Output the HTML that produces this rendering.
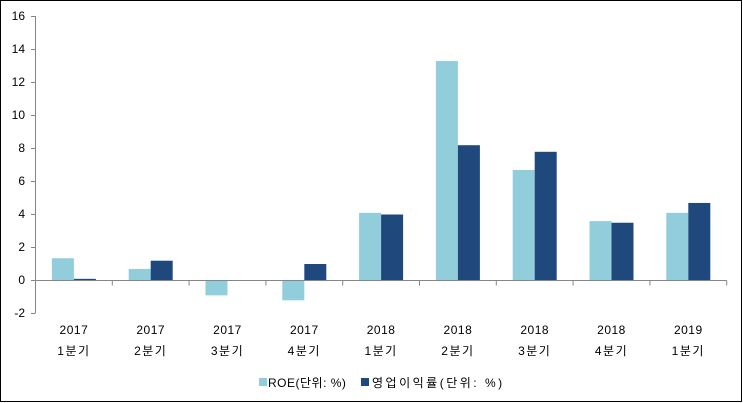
<!DOCTYPE html>
<html><head><meta charset="utf-8"><style>
html,body{margin:0;padding:0;background:#fff}
svg{display:block}
text{font-family:"Liberation Sans","Noto Sans CJK KR",sans-serif;font-size:12px;fill:#000}
</style></head><body>
<svg width="743" height="403" xmlns="http://www.w3.org/2000/svg">
<rect x="0.5" y="0.5" width="741" height="401" fill="#fff" stroke="#000" stroke-width="1"/>
<g stroke="#868686" stroke-width="1" fill="none">
<line x1="35.5" y1="16" x2="35.5" y2="313"/>
<line x1="31" y1="16.5" x2="35.5" y2="16.5"/>
<line x1="31" y1="49.5" x2="35.5" y2="49.5"/>
<line x1="31" y1="82.5" x2="35.5" y2="82.5"/>
<line x1="31" y1="115.5" x2="35.5" y2="115.5"/>
<line x1="31" y1="148.5" x2="35.5" y2="148.5"/>
<line x1="31" y1="181.5" x2="35.5" y2="181.5"/>
<line x1="31" y1="214.5" x2="35.5" y2="214.5"/>
<line x1="31" y1="247.5" x2="35.5" y2="247.5"/>
<line x1="31" y1="280.5" x2="35.5" y2="280.5"/>
<line x1="31" y1="313.5" x2="35.5" y2="313.5"/>
</g>
<g text-anchor="end">
<text x="25" y="20">16</text><text x="25" y="53">14</text><text x="25" y="86">12</text>
<text x="25" y="119">10</text><text x="25" y="152">8</text><text x="25" y="185">6</text>
<text x="25" y="218">4</text><text x="25" y="251">2</text><text x="25" y="284">0</text>
<text x="25" y="317">-2</text>
</g>
<g id="bars"></g>
<g id="axis" stroke="#868686" stroke-width="1"></g>
<g id="labels" text-anchor="middle"></g>
<rect x="259" y="378" width="8" height="8" fill="#92CDDC"/>
<text x="268" y="387" letter-spacing="0.5">ROE(단위: %)</text>
<rect x="361" y="378" width="8" height="8" fill="#1F497D"/>
<text x="372" y="387" letter-spacing="2.5">영업이익률(단위: %)</text>
<script>
var a=[1.35,0.7,-0.9,-1.2,4.1,13.3,6.7,3.6,4.1],b=[0.1,1.2,0,1.0,4.0,8.2,7.8,3.5,4.7];
var yr=["2017","2017","2017","2017","2018","2018","2018","2018","2019"],q=["1분기","2분기","3분기","4분기","1분기","2분기","3분기","4분기","1분기"];
var ns="http://www.w3.org/2000/svg",y0=280.5,s=16.5,w=76.8,x0=35.5;
function el(t,at,p,tx){var e=document.createElementNS(ns,t);for(var k in at)e.setAttribute(k,at[k]);if(tx)e.textContent=tx;document.getElementById(p).appendChild(e);}
for(var i=0;i<9;i++){var c=x0+w*(i+0.5);
[[a[i],c-22,"#92CDDC"],[b[i],c,"#1F497D"]].forEach(function(d){var v=d[0];if(v==0)return;var h=Math.abs(v)*s;el("rect",{x:d[1],y:v>0?y0-h:y0,width:22,height:h,fill:d[2]},"bars");});
el("line",{x1:x0+w*(i+1),y1:y0,x2:x0+w*(i+1),y2:y0+5},"axis");
el("text",{x:c,y:334,"letter-spacing":"0.5"},"labels",yr[i]);el("text",{x:c,y:355,"letter-spacing":"1.5"},"labels",q[i]);}
el("line",{x1:x0,y1:y0,x2:x0+w*9,y2:y0},"axis");
</script>
</svg>
</body></html>
